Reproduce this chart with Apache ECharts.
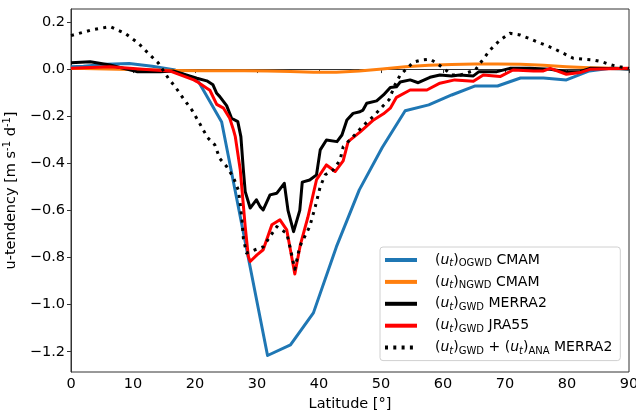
<!DOCTYPE html>
<html>
<head>
<meta charset="utf-8">
<script src="https://cdn.jsdelivr.net/npm/echarts@6/dist/echarts.min.js"></script>
<style>html,body{margin:0;padding:0;background:#fff}#c{width:636px;height:410px}</style>
</head>
<body>
<div id="c"></div>
<script>
// CMAM latitudes (coarse grid)
var cmamLat = [0, 2.0, 5.7, 9.4, 13.1, 16.8, 20.6, 24.3, 28.0, 31.7, 35.4, 39.1, 42.8, 46.5, 50.2, 53.9, 57.7, 61.4, 65.1, 68.8, 72.5, 76.2, 79.9, 83.6, 87.3, 90];
var ogwdCmam = [0.01, 0.012, 0.02, 0.024, 0.012, -0.004, -0.055, -0.225, -0.72, -1.216, -1.171, -1.035, -0.755, -0.513, -0.333, -0.177, -0.152, -0.11, -0.072, -0.072, -0.038, -0.038, -0.046, -0.008, 0.005, 0.0];
var ngwdCmam = [0.002, 0.002, 0.0, -0.002, -0.004, -0.006, -0.007, -0.007, -0.007, -0.008, -0.01, -0.014, -0.013, -0.008, 0.0, 0.01, 0.016, 0.019, 0.021, 0.021, 0.02, 0.016, 0.01, 0.006, 0.003, 0.002];

// MERRA2 GWD
var merraLat = [0, 3.1, 6.3, 10.6, 14.4, 16.5, 20.3, 21.9, 22.9, 23.5, 24.0, 25.1, 25.9, 26.9, 27.4, 27.8, 28.1, 28.9, 29.9, 30.5, 31.0, 32.1, 33.2, 34.4, 35.0, 35.9, 36.9, 37.3, 38.5, 39.6, 40.2, 41.2, 42.9, 43.7, 44.5, 45.5, 46.6, 47.1, 47.7, 49.3, 50.4, 51.5, 52.5, 53.1, 54.7, 56.0, 57.9, 59.5, 61.4, 62.7, 64.9, 65.8, 68.7, 70.8, 74.0, 77.3, 79.9, 82.1, 83.7, 86.9, 90];
var gwdMerra = [0.027, 0.031, 0.017, -0.011, -0.011, -0.008, -0.039, -0.05, -0.067, -0.103, -0.117, -0.155, -0.209, -0.223, -0.287, -0.428, -0.52, -0.59, -0.555, -0.584, -0.598, -0.534, -0.527, -0.485, -0.6, -0.69, -0.6, -0.48, -0.471, -0.449, -0.343, -0.301, -0.308, -0.28, -0.216, -0.188, -0.181, -0.174, -0.145, -0.135, -0.11, -0.078, -0.075, -0.055, -0.046, -0.058, -0.035, -0.025, -0.029, -0.025, -0.029, -0.011, -0.011, 0.003, 0.003, -0.001, -0.011, -0.011, 0.003, 0.002, 0.0];

// JRA55 GWD
var jraLat = [0, 6.3, 11.6, 15.9, 19.8, 20.3, 21.9, 22.4, 23.5, 24.6, 25.6, 26.2, 26.5, 27.3, 28.1, 28.6, 28.9, 30.0, 31.0, 32.4, 33.7, 34.8, 36.1, 37.0, 38.2, 39.6, 41.2, 42.6, 43.9, 44.7, 46.6, 48.8, 50.4, 51.5, 52.5, 54.7, 57.4, 59.5, 61.9, 64.9, 66.5, 69.2, 71.3, 74.6, 76.2, 77.3, 79.9, 82.1, 83.7, 90];
var gwdJra = [0.003, 0.01, -0.001, -0.008, -0.046, -0.053, -0.081, -0.09, -0.15, -0.166, -0.209, -0.258, -0.287, -0.428, -0.669, -0.796, -0.817, -0.789, -0.767, -0.661, -0.64, -0.683, -0.87, -0.745, -0.63, -0.47, -0.407, -0.435, -0.39, -0.308, -0.268, -0.216, -0.19, -0.166, -0.12, -0.089, -0.089, -0.06, -0.046, -0.052, -0.025, -0.032, -0.004, -0.008, -0.008, 0.003, -0.022, -0.015, -0.001, 0.003];

// MERRA2 GWD + ANA
var anaLat = [0, 3.3, 6.3, 8.7, 10.9, 12.2, 14.1, 14.9, 15.7, 16.8, 18.1, 19.5, 20.8, 22.0, 23.2, 24.0, 25.1, 26.2, 27.0, 27.3, 27.6, 27.8, 28.3, 29.7, 31.0, 32.1, 33.2, 34.8, 35.3, 36.1, 36.9, 38.5, 39.4, 40.2, 41.0, 42.3, 43.4, 43.9, 45.5, 46.6, 47.7, 48.8, 50.2, 51.3, 52.2, 53.1, 54.2, 55.2, 56.6, 57.9, 59.0, 60.3, 61.4, 62.9, 65.2, 66.0, 67.6, 69.2, 70.8, 72.4, 73.8, 75.1, 76.5, 77.8, 79.4, 81.0, 82.9, 84.2, 85.6, 87.2, 88.5, 90];
var gwdAnaMerra = [0.142, 0.166, 0.18, 0.152, 0.109, 0.074, 0.025, -0.007, -0.039, -0.075, -0.124, -0.174, -0.233, -0.29, -0.322, -0.38, -0.414, -0.46, -0.515, -0.575, -0.647, -0.718, -0.781, -0.767, -0.755, -0.711, -0.669, -0.697, -0.753, -0.85, -0.753, -0.669, -0.584, -0.499, -0.449, -0.428, -0.386, -0.33, -0.287, -0.255, -0.226, -0.2, -0.16, -0.13, -0.07, -0.025, 0.003, 0.029, 0.039, 0.042, 0.025, -0.001, -0.025, -0.025, -0.004, 0.025, 0.081, 0.123, 0.152, 0.145, 0.131, 0.116, 0.102, 0.088, 0.067, 0.046, 0.042, 0.039, 0.031, 0.017, 0.01, 0.003];

var yTicks = [-1.2, -1.0, -0.8, -0.6, -0.4, -0.2, 0.0, 0.2];
var xTicks = [0, 10, 20, 30, 40, 50, 60, 70, 80, 90];

function pairs(xs, ys) { return xs.map(function (x, i) { return [x, ys[i]]; }); }

var FONT = 'DejaVu Sans';
var legendLabels = {
  ogwd: '{n|(}{i|u}{si|t}{n|)}{s|OGWD}{n| CMAM}',
  ngwd: '{n|(}{i|u}{si|t}{n|)}{s|NGWD}{n| CMAM}',
  merra: '{n|(}{i|u}{si|t}{n|)}{s|GWD}{n| MERRA2}',
  jra: '{n|(}{i|u}{si|t}{n|)}{s|GWD}{n| JRA55}',
  ana: '{n|(}{i|u}{si|t}{n|)}{s|GWD}{n| + (}{i|u}{si|t}{n|)}{s|ANA}{n| MERRA2}'
};

var chart = echarts.init(document.getElementById('c'), null, { renderer: 'canvas' });
function mk(name, xs, ys, color, dashed) {
  return {
    name: name, type: 'line', data: pairs(xs, ys), showSymbol: false, symbol: 'none',
    animation: false, z: dashed ? 5 : 3,
    lineStyle: { color: color, width: 3, type: dashed ? [3, 5.3] : 'solid', cap: 'butt', join: 'round' },
    itemStyle: { color: color }
  };
}
chart.setOption({
  animation: false,
  backgroundColor: '#fff',
  grid: { left: 71, right: 7, top: 9, bottom: 38, show: true, borderColor: '#333', borderWidth: 1,
    backgroundColor: 'transparent', containLabel: false, outerBoundsMode: 'none' },
  xAxis: {
    type: 'value', min: 0, max: 90, interval: 10,
    name: 'Latitude [°]', nameLocation: 'middle', nameGap: 21,
    nameTextStyle: { fontFamily: FONT, fontSize: 14.5, color: '#000' },
    axisLine: { show: true, lineStyle: { color: '#333' } },
    axisTick: { show: true, length: 4, lineStyle: { color: '#333' } },
    axisLabel: { fontFamily: FONT, fontSize: 14.5, color: '#000', margin: 5 },
    splitLine: { show: false }
  },
  yAxis: {
    type: 'value', min: -1.286, max: 0.255,
    name: 'u-tendency [m s{sup|-1} d{sup|-1}]', nameLocation: 'middle', nameGap: 51, nameRotate: 90,
    nameTextStyle: { fontFamily: FONT, fontSize: 14.5, color: '#000',
      rich: { sup: { fontFamily: FONT, fontSize: 10, color: '#000', padding: [0, 0, 7, 0] } } },
    axisLine: { show: true, lineStyle: { color: '#333' } },
    axisTick: { show: true, length: 4, lineStyle: { color: '#333' }, customValues: yTicks },
    axisLabel: { fontFamily: FONT, fontSize: 14.5, color: '#000', margin: 6, customValues: yTicks,
      formatter: function (v) { return v.toFixed(1).replace('-', '\u2212'); } },
    splitLine: { show: false }
  },
  legend: {
    orient: 'vertical', left: 380, top: 247,
    padding: [4, 8, 4, 3], itemGap: 3.9, itemWidth: 32, itemHeight: 3,
    backgroundColor: 'rgba(255,255,255,0.85)', borderColor: '#d0d0d0', borderWidth: 1, borderRadius: 3,
    data: ['ogwd', 'ngwd', 'merra', 'jra', 'ana'],
    itemStyle: { opacity: 0 },
    lineStyle: { width: 4 },
    formatter: function (n) { return legendLabels[n]; },
    textStyle: {
      fontFamily: FONT, fontSize: 14, color: '#000', lineHeight: 18, padding: [0, 0, 0, 13],
      rich: {
        n: { fontFamily: FONT, fontSize: 14, color: '#000', lineHeight: 18 },
        i: { fontFamily: FONT, fontStyle: 'italic', fontSize: 14, color: '#000', lineHeight: 18 },
        si: { fontFamily: FONT, fontStyle: 'italic', fontSize: 10, color: '#000', padding: [7, 0, 0, 0] },
        s: { fontFamily: FONT, fontSize: 10, color: '#000', padding: [7, 0, 0, 0] }
      }
    }
  },
  series: [
    mk('ogwd', cmamLat, ogwdCmam, '#1f77b4', false),
    mk('ngwd', cmamLat, ngwdCmam, '#ff7f0e', false),
    mk('merra', merraLat, gwdMerra, '#000000', false),
    mk('jra', jraLat, gwdJra, '#ff0000', false),
    mk('ana', anaLat, gwdAnaMerra, '#000000', true)
  ]
});
</script>
</body>
</html>
